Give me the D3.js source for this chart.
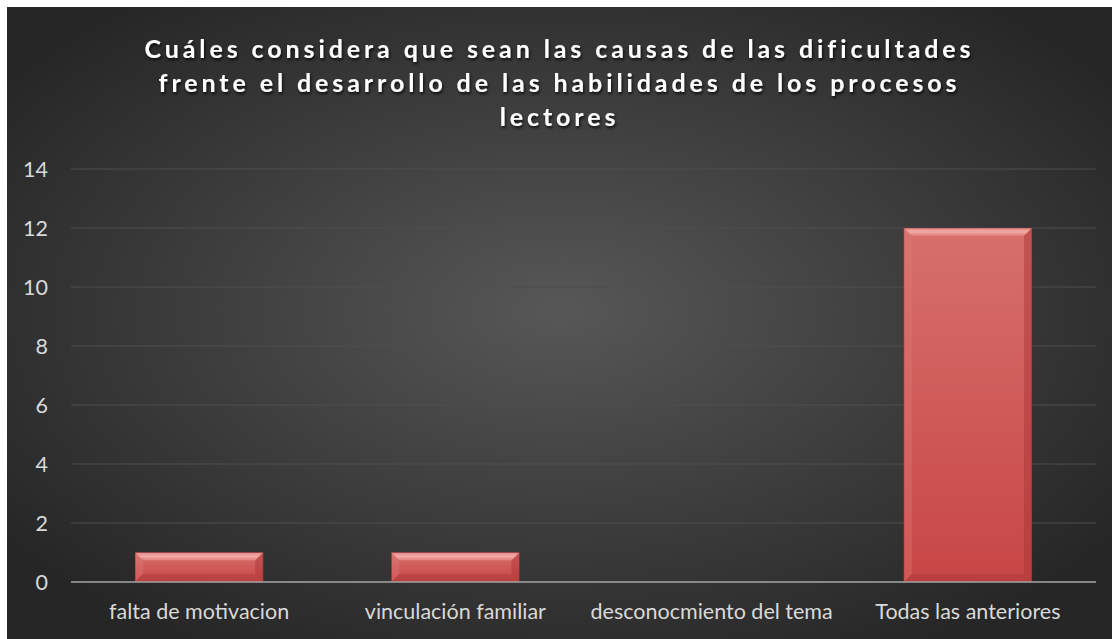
<!DOCTYPE html>
<html><head><meta charset="utf-8">
<script src="https://cdn.jsdelivr.net/npm/d3@7"></script>
<style>html,body{margin:0;padding:0;background:#fff;}svg{display:block;}</style>
</head><body>
<script>
const categories = ["falta de motivacion","vinculación familiar","desconocmiento del tema","Todas las anteriores"];
const values = [1, 1, 0, 12];
const yTicks = [0, 2, 4, 6, 8, 10, 12, 14];
const titleLines = ["Cuáles considera que sean las causas de las dificultades","frente el desarrollo de las habilidades de los procesos","lectores"];

const W = 1113, H = 639;
const svg = d3.select("body").append("svg").attr("width", W).attr("height", H);
const defs = svg.append("defs");

const bg = defs.append("radialGradient").attr("id","bg").attr("cx","50%").attr("cy","48%").attr("r","62%");
bg.append("stop").attr("offset","0%").attr("stop-color","#575757");
bg.append("stop").attr("offset","100%").attr("stop-color","#262626");

const barG = defs.append("linearGradient").attr("id","barg").attr("x1",0).attr("y1",0).attr("x2",0).attr("y2",1);
barG.append("stop").attr("offset","0%").attr("stop-color","#d6706c");
barG.append("stop").attr("offset","100%").attr("stop-color","#c84646");

const topG = defs.append("linearGradient").attr("id","topg").attr("x1",0).attr("y1",0).attr("x2",0).attr("y2",1);
topG.append("stop").attr("offset","0%").attr("stop-color","#e58a86");
topG.append("stop").attr("offset","50%").attr("stop-color","#f3a9a5");
topG.append("stop").attr("offset","100%").attr("stop-color","#de7a76");

const sh = defs.append("filter").attr("id","tshadow").attr("x","-10%").attr("y","-30%").attr("width","120%").attr("height","160%");
sh.append("feDropShadow").attr("dx",1).attr("dy",2).attr("stdDeviation",1.5).attr("flood-color","#000").attr("flood-opacity",0.8);

svg.append("rect").attr("x",7).attr("y",7).attr("width",W-8).attr("height",H-7).attr("fill","url(#bg)");

const plot = {left:71, right:1096, top:169, bottom:582};
const x = d3.scaleBand().domain(categories).range([plot.left, plot.right]).paddingInner(0.5).paddingOuter(0.25);
const y = d3.scaleLinear().domain([0,14]).range([plot.bottom, plot.top]);

const font = "Lato, 'Open Sans', sans-serif";

// gridlines
svg.append("g").selectAll("line").data(yTicks.filter(d=>d>0)).join("line")
  .attr("x1",plot.left).attr("x2",plot.right)
  .attr("y1",d=>y(d)).attr("y2",d=>y(d))
  .attr("stroke","#4f4f4f").attr("stroke-width",1);

// y axis labels
const yAxis = d3.axisLeft(y).tickValues(yTicks).tickSize(0).tickPadding(0);
const ya = svg.append("g").attr("transform",`translate(48,0)`).call(yAxis);
ya.select(".domain").remove();
ya.selectAll("text").attr("fill","#d9d9d9").attr("font-family",font).attr("font-size",21.5).attr("dy","0.35em");

// bars
const bars = svg.append("g");
categories.forEach((c,i)=>{
  const v = values[i];
  if (v <= 0) return;
  const x0 = x(c), w = x.bandwidth(), y0 = y(v), h = y(0) - y(v);
  const g = bars.append("g");
  g.append("rect").attr("x",x0).attr("y",y0).attr("width",w).attr("height",h).attr("fill","url(#barg)");
  const b = 8;
  g.append("polygon").attr("points",`${x0},${y0} ${x0+w},${y0} ${x0+w-b},${y0+b} ${x0+b},${y0+b}`).attr("fill","url(#topg)");
  g.append("polygon").attr("points",`${x0},${y0} ${x0+b},${y0+b} ${x0+b},${y0+h-b} ${x0},${y0+h}`).attr("fill","#e07f7b").attr("opacity",0.35);
  g.append("polygon").attr("points",`${x0+w},${y0} ${x0+w},${y0+h} ${x0+w-b},${y0+h-b} ${x0+w-b},${y0+b}`).attr("fill","#a83434").attr("opacity",0.45);
  g.append("polygon").attr("points",`${x0},${y0+h} ${x0+b},${y0+h-b} ${x0+w-b},${y0+h-b} ${x0+w},${y0+h}`).attr("fill","#a53636").attr("opacity",0.4);
  g.append("rect").attr("x",x0).attr("y",y0).attr("width",w).attr("height",h).attr("fill","none").attr("stroke","#6e2424").attr("stroke-width",0.8).attr("opacity",0.6);
});

// zero axis line
svg.append("line").attr("x1",plot.left).attr("x2",plot.right).attr("y1",y(0)).attr("y2",y(0))
  .attr("stroke","#a6a6a6").attr("stroke-width",1.5);

// x axis labels
const xAxis = d3.axisBottom(x).tickSize(0).tickPadding(0);
const xa = svg.append("g").attr("transform",`translate(0,${y(0)})`).call(xAxis);
xa.select(".domain").remove();
xa.selectAll("text").attr("fill","#d9d9d9").attr("font-family",font).attr("font-size",21.5).attr("dy","0").attr("y",37);

// title
const t = svg.append("text").attr("text-anchor","middle").attr("fill","#ffffff")
  .attr("font-family",font).attr("font-weight","bold").attr("font-size",25)
  .attr("letter-spacing","3.9px").attr("filter","url(#tshadow)");
titleLines.forEach((l,i)=>{
  t.append("tspan").attr("x",W/2+3).attr("y",58+i*34).text(l);
});
</script>
</body></html>
